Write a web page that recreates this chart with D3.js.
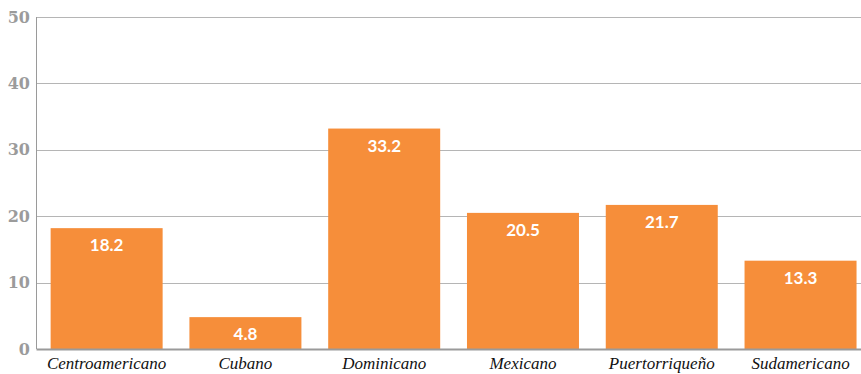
<!DOCTYPE html>
<html>
<head>
<meta charset="utf-8">
<script src="https://cdn.jsdelivr.net/npm/d3@7"></script>
<style>
  html, body { margin: 0; padding: 0; background: #fff; }
  svg { display: block; }
</style>
</head>
<body>
<svg id="chart" width="861" height="374"></svg>
<script>
// Origin groups and their percentages
const categories = ["Centroamericano", "Cubano", "Dominicano", "Mexicano", "Puertorriqueño", "Sudamericano"];
const values = [18.2, 4.8, 33.2, 20.5, 21.7, 13.3];
const yTicks = [0, 10, 20, 30, 40, 50];

const svg = d3.select("#chart");
const W = 861, H = 374;
const plotLeft = 36.5, plotTop = 17, plotBottom = 349;

const x = d3.scaleBand()
  .domain(categories)
  .range([plotLeft, W])
  .paddingInner(0.193)
  .paddingOuter(0.067)
  .align(0.76);

const y = d3.scaleLinear().domain([0, 50]).range([plotBottom, plotTop]);

// Horizontal gridlines
svg.append("g")
  .selectAll("line")
  .data(yTicks.filter(d => d !== 0))
  .join("line")
  .attr("x1", plotLeft).attr("x2", W)
  .attr("y1", d => Math.round(y(d)) + 0.5)
  .attr("y2", d => Math.round(y(d)) + 0.5)
  .attr("stroke", "#b5b5b5")
  .attr("stroke-width", 1);

// Vertical axis line
svg.append("line")
  .attr("x1", plotLeft).attr("x2", plotLeft)
  .attr("y1", y(50)).attr("y2", plotBottom)
  .attr("stroke", "#9a9a9a")
  .attr("stroke-width", 1);

// Y tick labels
svg.append("g")
  .selectAll("text")
  .data(yTicks)
  .join("text")
  .attr("x", 30)
  .attr("y", d => y(d))
  .attr("dy", "0.35em")
  .attr("text-anchor", "end")
  .attr("font-family", "'DejaVu Serif', Georgia, serif")
  .attr("font-weight", "bold")
  .attr("font-size", 16)
  .attr("fill", "#9b9b9b")
  .text(d => d);

// Bars
svg.append("g")
  .selectAll("rect")
  .data(values)
  .join("rect")
  .attr("x", (d, i) => x(categories[i]))
  .attr("width", x.bandwidth())
  .attr("y", d => y(d))
  .attr("height", d => plotBottom - y(d))
  .attr("fill", "#f68e3a");

// Baseline
svg.append("line")
  .attr("x1", plotLeft).attr("x2", W)
  .attr("y1", plotBottom + 0.5).attr("y2", plotBottom + 0.5)
  .attr("stroke", "#9a9a9a")
  .attr("stroke-width", 2);

// Value labels inside bars
svg.append("g")
  .selectAll("text")
  .data(values)
  .join("text")
  .attr("x", (d, i) => x(categories[i]) + x.bandwidth() / 2)
  .attr("y", d => y(d) + 23)
  .attr("text-anchor", "middle")
  .attr("font-family", "Lato, 'Open Sans', sans-serif")
  .attr("font-weight", "bold")
  .attr("font-size", 17)
  .attr("fill", "#fff")
  .text(d => d.toFixed(1));

// Category labels
svg.append("g")
  .selectAll("text")
  .data(categories)
  .join("text")
  .attr("x", d => x(d) + x.bandwidth() / 2)
  .attr("y", 369)
  .attr("text-anchor", "middle")
  .attr("font-family", "'Liberation Serif', 'DejaVu Serif', serif")
  .attr("font-style", "italic")
  .attr("font-size", 17)
  .attr("fill", "#111")
  .text(d => d);
</script>
</body>
</html>
